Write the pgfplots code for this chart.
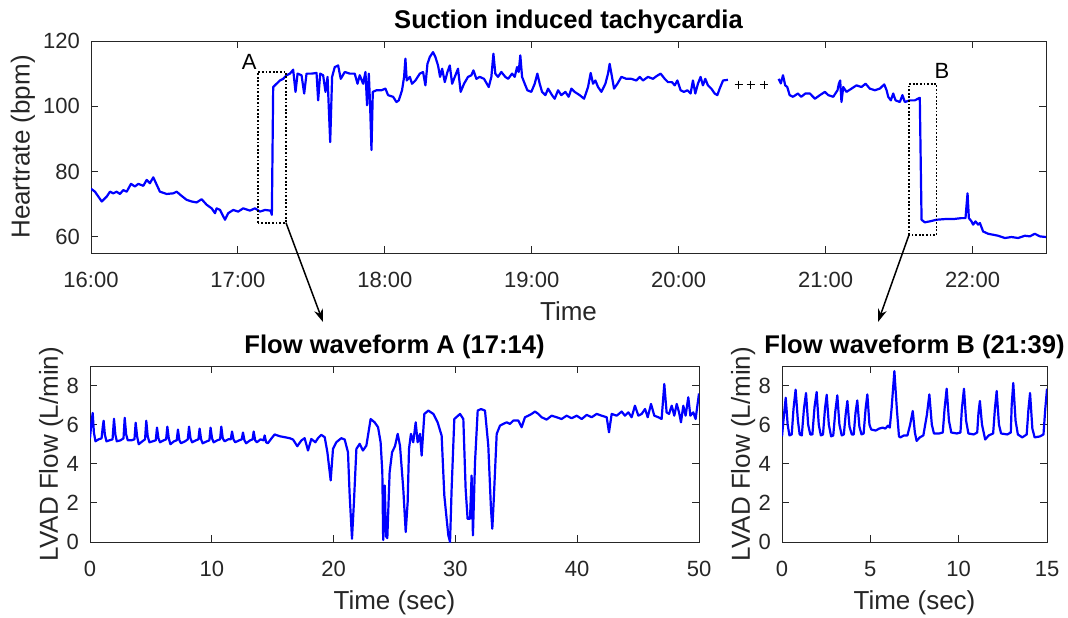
\documentclass[border=0pt]{standalone}
\usepackage{fontspec}
\setmainfont{Liberation Sans}
\usepackage{pgfplots}
\pgfplotsset{compat=1.18}
\usetikzlibrary{arrows.meta}
\definecolor{axgray}{gray}{0.15}
\pgfplotsset{mystyle/.style={
  scale only axis,
  anchor=south west,
  axis line style={axgray, line width=0.5pt},
  every tick/.style={axgray, line width=0.5pt},
  major tick length=3.5pt,
  tick align=inside,
  xtick pos=both, ytick pos=both,
  xticklabel style={font=\fontsize{11}{13}\selectfont, text=axgray, yshift=-6pt},
  yticklabel style={font=\fontsize{11}{13}\selectfont, text=axgray, xshift=-2pt},
  xlabel style={font=\fontsize{13}{15}\selectfont, text=axgray, anchor=center},
  ylabel style={font=\fontsize{13}{15}\selectfont, text=axgray, anchor=center, rotate=0},
  every axis title shift=0pt,
  title style={font=\bfseries\fontsize{12.8}{14}\selectfont, at={(axis description cs:0.5,1)}, anchor=base, yshift=6.3pt},
  /pgf/number format/assume math mode=true,
}}
\tikzset{flow/.style={blue, no markers, line width=1.1pt, line join=round}}
\begin{document}
\begin{tikzpicture}
\useasboundingbox (0,0) rectangle (534pt,308.5pt);
% ---------------- top axis ----------------
\begin{axis}[mystyle, at={(45.5pt,182pt)}, width=477.5pt, height=106pt,
  xmin=0, xmax=6.5, ymin=55, ymax=120,
  xtick={0,1,2,3,4,5,6},
  xticklabels={16:00,17:00,18:00,19:00,20:00,21:00,22:00},
  ytick={60,80,100,120},
  xlabel={Time}, ylabel={Heartrate (bpm)},
  xlabel style={at={(axis description cs:0.5,-0.274)}},
  ylabel style={at={(axis description cs:-0.0712,0.5)}},
  title={Suction induced tachycardia}]
\addplot[flow] coordinates {(0,74.7)(0.027,73.8)(0.073,70.8)(0.107,72.3)(0.129,73.8)(0.152,73.3)(0.175,73.8)(0.197,73.1)(0.220,74.3)(0.243,73.8)(0.272,76.2)(0.299,75.4)(0.322,76.2)(0.356,75.6)(0.379,77.4)(0.401,76.4)(0.424,78.2)(0.469,73.8)(0.515,73.1)(0.560,73.3)(0.583,73.8)(0.617,72.5)(0.651,71.3)(0.685,70.8)(0.719,70.5)(0.753,71.5)(0.787,69.8)(0.821,68.7)(0.844,67.2)(0.855,68.7)(0.878,68.2)(0.912,65.2)(0.934,67.2)(0.968,68.2)(1.002,67.7)(1.036,68.7)(1.082,68.0)(1.116,68.7)(1.150,67.7)(1.184,68.2)(1.222,68.0)(1.231,66.7)(1.240,105.9)(1.263,106.9)(1.286,107.9)(1.308,108.4)(1.331,109.5)(1.354,110.0)(1.376,111.2)(1.392,104.4)(1.406,110.0)(1.433,109.5)(1.451,103.9)(1.467,110.0)(1.501,110.0)(1.535,110.2)(1.546,101.8)(1.560,110.0)(1.580,109.5)(1.596,104.4)(1.610,109.0)(1.628,89.0)(1.641,109.0)(1.659,112.0)(1.682,112.5)(1.700,108.4)(1.727,110.5)(1.761,110.0)(1.795,110.0)(1.814,106.9)(1.829,109.5)(1.852,106.9)(1.868,110.5)(1.879,100.3)(1.891,110.0)(1.900,99.8)(1.909,86.6)(1.918,104.4)(1.943,104.9)(1.977,104.9)(2.004,105.4)(2.022,103.4)(2.056,102.9)(2.079,101.3)(2.095,101.8)(2.117,104.9)(2.131,109.0)(2.140,114.6)(2.149,107.9)(2.170,109.0)(2.185,106.9)(2.208,107.9)(2.238,110.0)(2.260,110.5)(2.276,106.4)(2.290,113.0)(2.306,115.1)(2.328,116.6)(2.344,115.1)(2.362,112.5)(2.376,109.0)(2.390,111.5)(2.408,107.4)(2.426,110.5)(2.442,112.5)(2.458,106.9)(2.476,109.0)(2.498,111.5)(2.516,104.4)(2.539,106.9)(2.566,109.0)(2.589,109.5)(2.603,111.0)(2.623,108.4)(2.646,109.0)(2.675,108.4)(2.707,105.9)(2.725,109.0)(2.739,116.1)(2.752,110.0)(2.770,109.0)(2.793,110.5)(2.820,109.0)(2.839,108.4)(2.866,110.0)(2.884,109.0)(2.900,112.0)(2.911,110.5)(2.922,115.6)(2.934,109.0)(2.952,106.9)(2.970,104.9)(2.997,104.4)(3.020,106.9)(3.038,110.0)(3.054,106.9)(3.070,104.4)(3.093,103.4)(3.111,105.4)(3.138,103.4)(3.156,102.3)(3.179,104.9)(3.201,103.4)(3.229,104.4)(3.251,102.9)(3.270,105.4)(3.292,104.4)(3.326,103.4)(3.356,102.3)(3.383,105.9)(3.401,110.2)(3.417,106.9)(3.433,107.9)(3.451,105.9)(3.474,104.4)(3.501,106.9)(3.519,110.0)(3.530,113.0)(3.542,110.0)(3.560,105.4)(3.583,106.9)(3.610,109.0)(3.644,108.4)(3.678,108.4)(3.712,107.9)(3.735,109.0)(3.757,107.9)(3.791,109.0)(3.825,108.4)(3.848,109.2)(3.877,110.0)(3.905,108.4)(3.927,107.4)(3.954,107.4)(3.973,106.4)(3.991,107.9)(4.013,104.9)(4.036,104.4)(4.059,104.9)(4.081,103.9)(4.097,107.9)(4.113,103.9)(4.131,106.9)(4.149,109.0)(4.165,106.4)(4.181,108.4)(4.199,106.4)(4.222,105.4)(4.245,103.9)(4.263,103.4)(4.279,105.4)(4.302,107.9)(4.335,108.1)};
\addplot[flow] coordinates {(4.680,108.4)(4.695,107.0)(4.710,109.5)(4.725,106.4)(4.739,105.9)(4.755,103.4)(4.778,102.9)(4.811,103.9)(4.834,102.9)(4.862,103.9)(4.893,103.9)(4.927,102.3)(4.961,103.4)(4.995,104.4)(5.018,103.4)(5.052,102.9)(5.081,104.9)(5.090,106.9)(5.099,107.9)(5.108,101.3)(5.120,105.9)(5.142,104.4)(5.176,105.4)(5.210,106.4)(5.244,105.9)(5.272,106.9)(5.301,105.4)(5.335,104.9)(5.369,105.4)(5.399,106.7)(5.415,104.9)(5.426,102.9)(5.444,101.8)(5.460,103.9)(5.476,101.8)(5.505,101.3)(5.523,103.4)(5.539,101.3)(5.573,101.8)(5.607,101.8)(5.641,102.6)(5.653,65.2)(5.675,64.4)(5.709,64.7)(5.755,65.2)(5.811,65.4)(5.868,65.4)(5.925,65.7)(5.952,65.7)(5.966,73.3)(5.975,65.7)(5.993,64.7)(6.004,63.7)(6.020,64.7)(6.038,63.7)(6.050,64.2)(6.072,61.6)(6.106,60.9)(6.140,60.6)(6.174,60.3)(6.220,59.6)(6.265,59.9)(6.310,59.6)(6.356,60.3)(6.390,60.1)(6.424,60.9)(6.458,60.1)(6.500,59.9)};
\addplot[black, only marks, mark=+, mark size=2pt, line width=0.4pt] coordinates {(4.408,106.6)(4.490,106.6)(4.580,106.6)};
\draw[black, line width=0.9pt, dash pattern=on 0.9pt off 0.9pt] (axis cs:1.138,64.3) rectangle (axis cs:1.327,110.6);
\draw[black, line width=0.9pt, dash pattern=on 0.9pt off 0.9pt] (axis cs:5.567,60.5) rectangle (axis cs:5.755,106.8);
\node[font=\fontsize{11}{13}\selectfont] at (axis cs:1.077,113.7) {A};
\node[font=\fontsize{11}{13}\selectfont] at (axis cs:5.791,110.9) {B};
\coordinate (Abr) at (axis cs:1.327,64.3);
\coordinate (Bbl) at (axis cs:5.567,60.5);
\end{axis}
\draw[black, line width=0.75pt, -{Stealth[length=6.5pt,width=4.5pt]}] (Abr) -- (161.5pt,147.5pt);
\draw[black, line width=0.75pt, -{Stealth[length=6.5pt,width=4.5pt]}] (Bbl) -- (439pt,147.5pt);
% ---------------- bottom left ----------------
\begin{axis}[mystyle, at={(45pt,37.5pt)}, width=304.5pt, height=88pt,
  xmin=0, xmax=50, ymin=0, ymax=9,
  xtick={0,10,20,30,40,50}, ytick={0,2,4,6,8},
  xlabel={Time (sec)}, ylabel={LVAD Flow (L/min)},
  xlabel style={at={(axis description cs:0.5,-0.347)}},
  ylabel style={at={(axis description cs:-0.064,0.5)}},
  title={Flow waveform A (17:14)}]
\addplot[flow] coordinates {(0,5.3)(0.1,6.0)(0.22,6.6)(0.32,5.6)(0.45,5.15)(0.7,5.25)(0.95,5.3)(1.05,5.9)(1.12,6.2)(1.22,5.5)(1.35,5.15)(1.6,5.2)(1.85,5.25)(1.97,6.3)(2.08,5.5)(2.2,5.15)(2.5,5.2)(2.75,5.3)(2.85,6.35)(2.97,5.5)(3.1,5.2)(3.4,5.2)(3.65,5.25)(3.75,6.1)(3.87,5.4)(4.0,5.0)(4.3,5.15)(4.52,5.25)(4.62,6.2)(4.74,5.4)(4.88,5.1)(5.15,5.15)(5.4,5.2)(5.5,5.85)(5.62,5.3)(5.75,5.1)(6.05,5.2)(6.25,5.25)(6.35,5.9)(6.47,5.3)(6.6,5.0)(6.9,5.15)(7.12,5.2)(7.22,5.75)(7.34,5.2)(7.47,5.05)(7.8,5.15)(8.03,5.25)(8.13,5.9)(8.25,5.3)(8.38,5.1)(8.7,5.2)(8.9,5.25)(9.0,5.8)(9.12,5.25)(9.25,5.05)(9.6,5.15)(9.8,5.2)(9.9,5.85)(10.02,5.3)(10.15,5.1)(10.45,5.2)(10.68,5.25)(10.78,5.9)(10.9,5.3)(11.05,5.15)(11.35,5.25)(11.56,5.25)(11.66,5.65)(11.78,5.25)(11.92,5.1)(12.25,5.2)(12.46,5.25)(12.56,5.6)(12.68,5.2)(12.82,5.05)(13.15,5.2)(13.35,5.25)(13.44,5.65)(13.56,5.2)(13.7,5.1)(14.0,5.25)(14.24,5.2)(14.34,5.45)(14.46,5.1)(14.6,5.05)(14.9,5.3)(15.16,5.5)(15.57,5.41)(15.98,5.36)(16.39,5.31)(16.67,5.24)(17.02,4.9)(17.35,5.19)(17.62,5.31)(17.9,4.68)(18.17,5.27)(18.5,5.1)(18.72,5.31)(18.99,5.48)(19.27,5.36)(19.49,4.59)(19.76,3.15)(19.95,4.76)(20.22,5.1)(20.63,5.31)(20.91,5.24)(21.18,4.59)(21.32,2.38)(21.51,0.17)(21.67,2.04)(21.87,4.76)(22.14,5.02)(22.41,4.68)(22.69,4.93)(23.04,6.29)(23.37,6.12)(23.65,5.87)(23.86,5.1)(24.0,3.57)(24.07,0.1)(24.2,2.89)(24.3,0.3)(24.41,0.2)(24.6,3.57)(24.8,4.59)(25.04,4.9)(25.26,5.53)(25.45,4.93)(25.72,2.72)(25.92,0.51)(26.08,2.04)(26.19,4.76)(26.35,5.53)(26.54,5.1)(26.74,6.12)(26.9,5.1)(27.09,5.53)(27.23,4.42)(27.45,6.55)(27.78,6.72)(28.19,6.55)(28.54,6.12)(28.87,5.44)(29.09,2.38)(29.28,1.19)(29.42,0.34)(29.56,0.0)(29.69,2.72)(29.91,6.29)(30.38,6.55)(30.65,6.29)(30.84,2.72)(31.0,1.19)(31.2,1.19)(31.33,3.4)(31.44,0.34)(31.61,4.08)(31.83,6.72)(32.1,6.8)(32.43,6.72)(32.7,4.93)(32.92,1.7)(33.03,0.68)(33.14,2.04)(33.39,5.53)(33.66,5.95)(33.93,6.04)(34.21,6.12)(34.48,6.04)(34.76,6.21)(35.17,6.21)(35.44,5.87)(35.71,6.38)(35.99,6.46)(36.26,6.55)(36.53,6.67)(36.81,6.55)(37.08,6.38)(37.49,6.26)(37.9,6.46)(38.31,6.38)(38.72,6.29)(39.13,6.46)(39.54,6.33)(39.96,6.46)(40.37,6.29)(40.78,6.5)(41.19,6.38)(41.6,6.55)(42.01,6.46)(42.42,6.38)(42.61,5.61)(42.83,6.55)(43.24,6.46)(43.65,6.67)(43.92,6.46)(44.2,6.63)(44.47,6.38)(44.74,6.97)(45.02,6.46)(45.29,6.55)(45.57,6.8)(45.79,6.38)(46.06,7.06)(46.33,6.46)(46.66,6.38)(46.93,6.29)(47.15,8.08)(47.34,6.63)(47.54,6.55)(47.76,6.97)(47.97,6.46)(48.17,7.06)(48.36,6.63)(48.52,6.12)(48.71,6.97)(48.9,6.46)(49.12,7.4)(49.29,6.46)(49.53,6.63)(49.72,6.29)(50,7.6)};
\end{axis}
% ---------------- bottom right ----------------
\begin{axis}[mystyle, at={(391pt,37.5pt)}, width=132.5pt, height=88pt,
  xmin=0, xmax=15, ymin=0, ymax=9,
  xtick={0,5,10,15}, ytick={0,2,4,6,8},
  xlabel={Time (sec)}, ylabel={LVAD Flow (L/min)},
  xlabel style={at={(axis description cs:0.5,-0.347)}},
  ylabel style={at={(axis description cs:-0.147,0.5)}},
  title={Flow waveform B (21:39)}]
\addplot[flow] coordinates {(0,5.4)(0.08,6.2)(0.21,7.38)(0.32,6.0)(0.42,5.45)(0.55,5.5)(0.65,6.8)(0.77,7.79)(0.9,6.2)(1.0,5.5)(1.12,5.45)(1.24,6.8)(1.36,7.62)(1.48,6.0)(1.6,5.5)(1.72,5.5)(1.84,6.9)(1.96,7.67)(2.08,6.0)(2.2,5.45)(2.32,5.5)(2.43,6.8)(2.53,7.53)(2.65,6.0)(2.78,5.4)(2.9,5.45)(3.02,6.7)(3.13,7.5)(3.25,6.0)(3.38,5.45)(3.5,5.5)(3.6,6.5)(3.7,7.21)(3.82,5.9)(3.95,5.5)(4.06,5.5)(4.16,6.6)(4.26,7.24)(4.38,5.9)(4.5,5.5)(4.62,5.55)(4.73,6.8)(4.83,7.55)(4.95,6.0)(5.05,5.75)(5.3,5.7)(5.5,5.8)(5.7,5.85)(5.85,5.8)(6.0,5.95)(6.1,5.85)(6.2,6.8)(6.36,8.74)(6.5,6.8)(6.62,5.4)(6.7,5.35)(6.9,5.45)(7.1,5.45)(7.25,6.0)(7.4,6.7)(7.52,5.6)(7.62,5.17)(7.8,5.35)(8.0,5.45)(8.2,6.5)(8.34,7.55)(8.48,6.0)(8.6,5.55)(8.9,5.55)(9.1,5.6)(9.2,6.8)(9.32,7.84)(9.45,6.2)(9.58,5.6)(9.9,5.55)(10.1,5.6)(10.18,6.8)(10.3,7.84)(10.42,6.2)(10.55,5.55)(10.85,5.5)(11.05,5.6)(11.12,6.6)(11.2,7.21)(11.32,6.0)(11.5,5.24)(11.7,5.45)(11.95,5.55)(12.05,6.8)(12.15,7.72)(12.28,6.0)(12.4,5.55)(12.75,5.5)(12.95,5.6)(13.0,7.0)(13.09,8.13)(13.22,6.2)(13.35,5.5)(13.6,5.35)(13.85,5.5)(13.95,6.8)(14.04,7.62)(14.17,5.8)(14.3,5.35)(14.6,5.4)(14.8,5.5)(14.9,6.8)(15,7.84)};
\end{axis}
\end{tikzpicture}
\end{document}
